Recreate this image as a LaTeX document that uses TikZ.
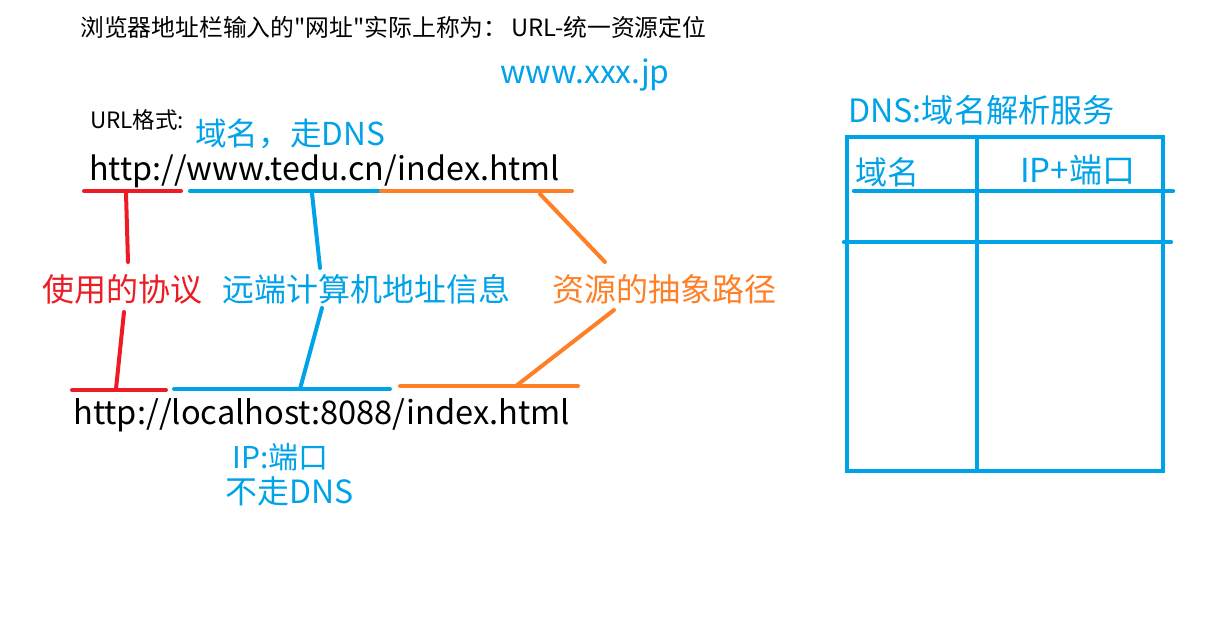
\documentclass[tikz,border=0pt]{standalone}
\usepackage{fontspec}
\setmainfont{Noto Sans CJK SC}[Ligatures=TeXOff]
\definecolor{pblue}{HTML}{00A2E8}
\definecolor{pred}{HTML}{ED1C24}
\definecolor{porange}{HTML}{FF7F27}
\newcommand{\fpx}[1]{\fontsize{\fpeval{#1*0.75}pt}{\fpeval{#1*0.9}pt}\selectfont}
\begin{document}
\begin{tikzpicture}[x=0.75pt,y=-0.75pt,
  txt/.style={inner sep=0pt, anchor=base west},
  pen/.style={line width=3pt, line cap=round},
  box/.style={line width=3.2pt, draw=pblue}]
\useasboundingbox (0,0) rectangle (1228,620);
% texts
\node[txt, font=\fpx{23.8}] (title) at (80,37) {浏览器地址栏输入的"网址"实际上称为：\,URL-统一资源定位};
\node[txt, font=\fpx{31.8}, text=pblue] (xxx) at (500,84) {www.xxx.jp};
\node[txt, font=\fpx{22.5}] (fmt) at (90,129) {URL格式:};
\node[txt, font=\fpx{31.6}, text=pblue] (dom) at (195,146) {域名，走DNS};
\node[txt, font=\fpx{32.3}] (url1) at (89,181) {http://www.tedu.cn/index.html};
\node[txt, font=\fpx{32}, text=pred] (proto) at (42,301) {使用的协议};
\node[txt, font=\fpx{32}, text=pblue] (host) at (222,301) {远端计算机地址信息};
\node[txt, font=\fpx{32}, text=porange] (path) at (552,301) {资源的抽象路径};
\node[txt, font=\fpx{32.6}] (url2) at (73,424) {http://localhost:8088/index.html};
\node[txt, font=\fpx{30}, text=pblue] (ip) at (232,468) {IP:端口};
\node[txt, font=\fpx{32}, text=pblue] (nodns) at (225,503) {不走DNS};
% underline coordinates
\coordinate (r1a) at (84,191); \coordinate (r1b) at (181,191);
\coordinate (b1a) at (190,191); \coordinate (b1b) at (380,191);
\coordinate (o1a) at (381,191); \coordinate (o1b) at (572,191);
\coordinate (r2a) at (72,390); \coordinate (r2b) at (166,390);
\coordinate (b2a) at (174,389); \coordinate (b2b) at (390,389);
\coordinate (o2a) at (400,386); \coordinate (o2b) at (578,386);
\draw[pen, pred] (r1a) -- (r1b);
\draw[pen, pblue] (b1a) -- (b1b);
\draw[pen, porange] (o1a) -- (o1b);
\draw[pen, pred] (r2a) -- (r2b);
\draw[pen, pblue] (b2a) -- (b2b);
\draw[pen, porange] (o2a) -- (o2b);
% connectors
\coordinate (r1) at (126,193); \coordinate (r1e) at (128,262);
\coordinate (r2s) at (124,312); \coordinate (r2) at (116,389);
\coordinate (b1) at (312,193); \coordinate (b1e) at (320,268);
\coordinate (b2s) at (322,308); \coordinate (b2) at (300,389);
\coordinate (o1) at (540,194); \coordinate (o1e) at (605,262);
\coordinate (o2s) at (614,310); \coordinate (o2) at (516,386);
\draw[pen, pred] (r1) -- (r1e);
\draw[pen, pred] (r2s) -- (r2);
\draw[pen, pblue] (b1) -- (b1e);
\draw[pen, pblue] (b2s) -- (b2);
\draw[pen, porange] (o1) -- (o1e);
\draw[pen, porange] (o2s) -- (o2);
% DNS table
\node[txt, font=\fpx{32.2}, text=pblue] (dnst) at (848,123) {DNS:域名解析服务};
\draw[box] (847,137) rectangle (1163,471);
\draw[box] (977,137) -- (977,471);
\draw[box, line cap=round] (854,191) -- (1173,191);
\draw[box, line cap=round] (844,242) -- (1171,242);
\node[txt, font=\fpx{32}, text=pblue] (col1) at (855,185) {域名};
\node[txt, font=\fpx{33}, text=pblue] (col2) at (1020,183) {IP+端口};
\end{tikzpicture}
\end{document}
